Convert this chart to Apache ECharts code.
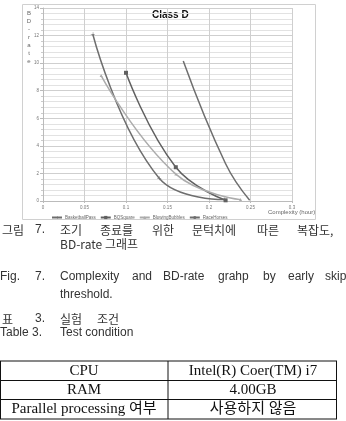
<!DOCTYPE html>
<html><head><meta charset="utf-8">
<script src="https://cdn.jsdelivr.net/npm/echarts@6/dist/echarts.min.js"></script>
<style>html,body{margin:0;padding:0;background:#fff}#c{width:346px;height:421px}</style>
</head><body><div id="c"></div>
<script>
const seriesNames = ['BasketballPass', 'BQSquare', 'BlowingBubbles', 'RaceHorses'];
const basketballPass = [[0.06, 12.1], [0.14, 1.65], [0.218, 0.1]];
const bqSquare = [[0.1, 9.3], [0.16, 2.45], [0.22, 0.05]];
const blowingBubbles = [[0.07, 9.1], [0.16, 1.95], [0.238, 0.1]];
const raceHorses = [[0.169, 10.15], [0.22, 2.7], [0.249, 0.05]];
const xMin = 0, xMax = 0.3, xStep = 0.05;
const yMin = 0, yMax = 14, yStep = 2;

const chart = echarts.init(document.getElementById('c'));
const plus = 'path://M0,4L8,4L8,5L0,5ZM4,0L5,0L5,9L4,9Z';
const cap = {fill: '#333', fontFamily: '"Liberation Sans", "Noto Sans CJK KR", sans-serif', fontSize: 12, verticalAlign: 'middle'};
const kor = Object.assign({}, cap, {fontFamily: '"Noto Sans CJK KR", sans-serif', fontSize: 12});
const ser = {fill: '#111', fontFamily: '"Liberation Serif", "Noto Sans CJK KR", serif', fontSize: 15, verticalAlign: 'middle', align: 'center'};
function tw(x, y, text, st) { return {type: 'text', x: x, y: y, style: Object.assign({}, st, {text: text})}; }
function ln(x1, y1, x2, y2) { return {type: 'line', shape: {x1: x1, y1: y1, x2: x2, y2: y2}, style: {stroke: '#111', lineWidth: 1}}; }

const graphics = [
  {type: 'rect', shape: {x: 22.5, y: 4.5, width: 293, height: 215}, style: {fill: 'none', stroke: '#d0d0d0', lineWidth: 1}, z: -1},
  tw(152, 15, 'Class D', {fill: '#111', fontFamily: '"Liberation Sans", sans-serif', fontSize: 10, fontWeight: 'bold', verticalAlign: 'middle'}),
  tw(29, 9, 'B\nD\n-\nr\na\nt\ne', {fill: '#666', fontFamily: '"Liberation Sans", sans-serif', fontSize: 6, lineHeight: 8, align: 'center', verticalAlign: 'top'}),
  tw(268, 212, 'Complexity (hour)', {fill: '#666', fontFamily: '"Liberation Sans", sans-serif', fontSize: 6, verticalAlign: 'middle'}),
  tw(2, 230, '그림', kor), tw(35, 230, '7.', cap), tw(60, 230, '조기', kor), tw(100, 230, '종료를', kor),
  tw(152, 230, '위한', kor), tw(192, 230, '문턱치에', kor), tw(257, 230, '따른', kor), tw(297, 230, '복잡도,', kor),
  tw(60, 244, 'BD-rate 그래프', kor),
  tw(0, 277, 'Fig.', cap), tw(35, 277, '7.', cap), tw(60, 277, 'Complexity', cap), tw(132, 277, 'and', cap),
  tw(163, 277, 'BD-rate', cap), tw(218, 277, 'grahp', cap), tw(263, 277, 'by', cap), tw(288, 277, 'early', cap), tw(325, 277, 'skip', cap),
  tw(60, 295, 'threshold.', cap),
  tw(2, 319, '표', kor), tw(35, 319, '3.', cap), tw(60, 319, '실험', kor), tw(97, 319, '조건', kor),
  tw(0, 333, 'Table 3.', cap), tw(60, 333, 'Test condition', cap),
  ln(0, 361, 337, 361), ln(0, 380.5, 337, 380.5), ln(0, 399.5, 337, 399.5), ln(0, 419, 337, 419),
  ln(0.5, 361, 0.5, 419), ln(168, 361, 168, 419), ln(336.5, 361, 336.5, 419),
  tw(84, 371, 'CPU', ser), tw(253, 371, 'Intel(R) Coer(TM) i7', ser),
  tw(84, 390, 'RAM', ser), tw(253, 390, '4.00GB', ser),
  tw(84, 409.5, 'Parallel processing 여부', ser), tw(253, 409.5, '사용하지 않음', ser)
];

const lineColors = ['#6e6e6e', '#606060', '#acacac', '#6e6e6e'];
const symbols = [plus, 'rect', 'triangle', 'none'];
const symSizes = [4, 4, 3, 0];
const datas = [basketballPass, bqSquare, blowingBubbles, raceHorses];

chart.setOption({
  animation: false,
  grid: {left: 43, top: 8, right: 54, bottom: 220},
  xAxis: {type: 'value', min: xMin, max: xMax, interval: xStep,
    axisLine: {lineStyle: {color: '#bbb'}}, axisTick: {show: true, length: 2, lineStyle: {color: '#bbb'}},
    axisLabel: {fontSize: 4.5, color: '#777', margin: 4, fontFamily: '"Liberation Sans", sans-serif'},
    splitLine: {lineStyle: {color: '#cfcfcf', width: 1}}},
  yAxis: {type: 'value', min: yMin, max: yMax, interval: yStep,
    axisLine: {show: true, lineStyle: {color: '#bbb'}}, axisTick: {show: true, length: 3, lineStyle: {color: '#bbb'}},
    minorTick: {show: true, splitNumber: 5, length: 2, lineStyle: {color: '#ccc'}},
    minorSplitLine: {show: true, lineStyle: {color: '#e2e2e2', width: 1}},
    axisLabel: {fontSize: 4.5, color: '#777', margin: 4, fontFamily: '"Liberation Sans", sans-serif'},
    splitLine: {lineStyle: {color: '#cfcfcf', width: 1}}},
  legend: {data: seriesNames, left: 46, top: 210, itemWidth: 10, itemHeight: 4, itemGap: 4,
    textStyle: {fontSize: 4.5, color: '#666', padding: [0, 0, 0, -2], fontFamily: '"Liberation Sans", sans-serif'}},
  series: seriesNames.map((n, i) => ({
    name: n, type: 'line', data: datas[i], smooth: 0.45,
    symbol: symbols[i], symbolSize: symSizes[i], showSymbol: symbols[i] !== 'none',
    lineStyle: {color: lineColors[i], width: 1.5}, itemStyle: {color: lineColors[i]}
  })),
  graphic: graphics
});
</script></body></html>
